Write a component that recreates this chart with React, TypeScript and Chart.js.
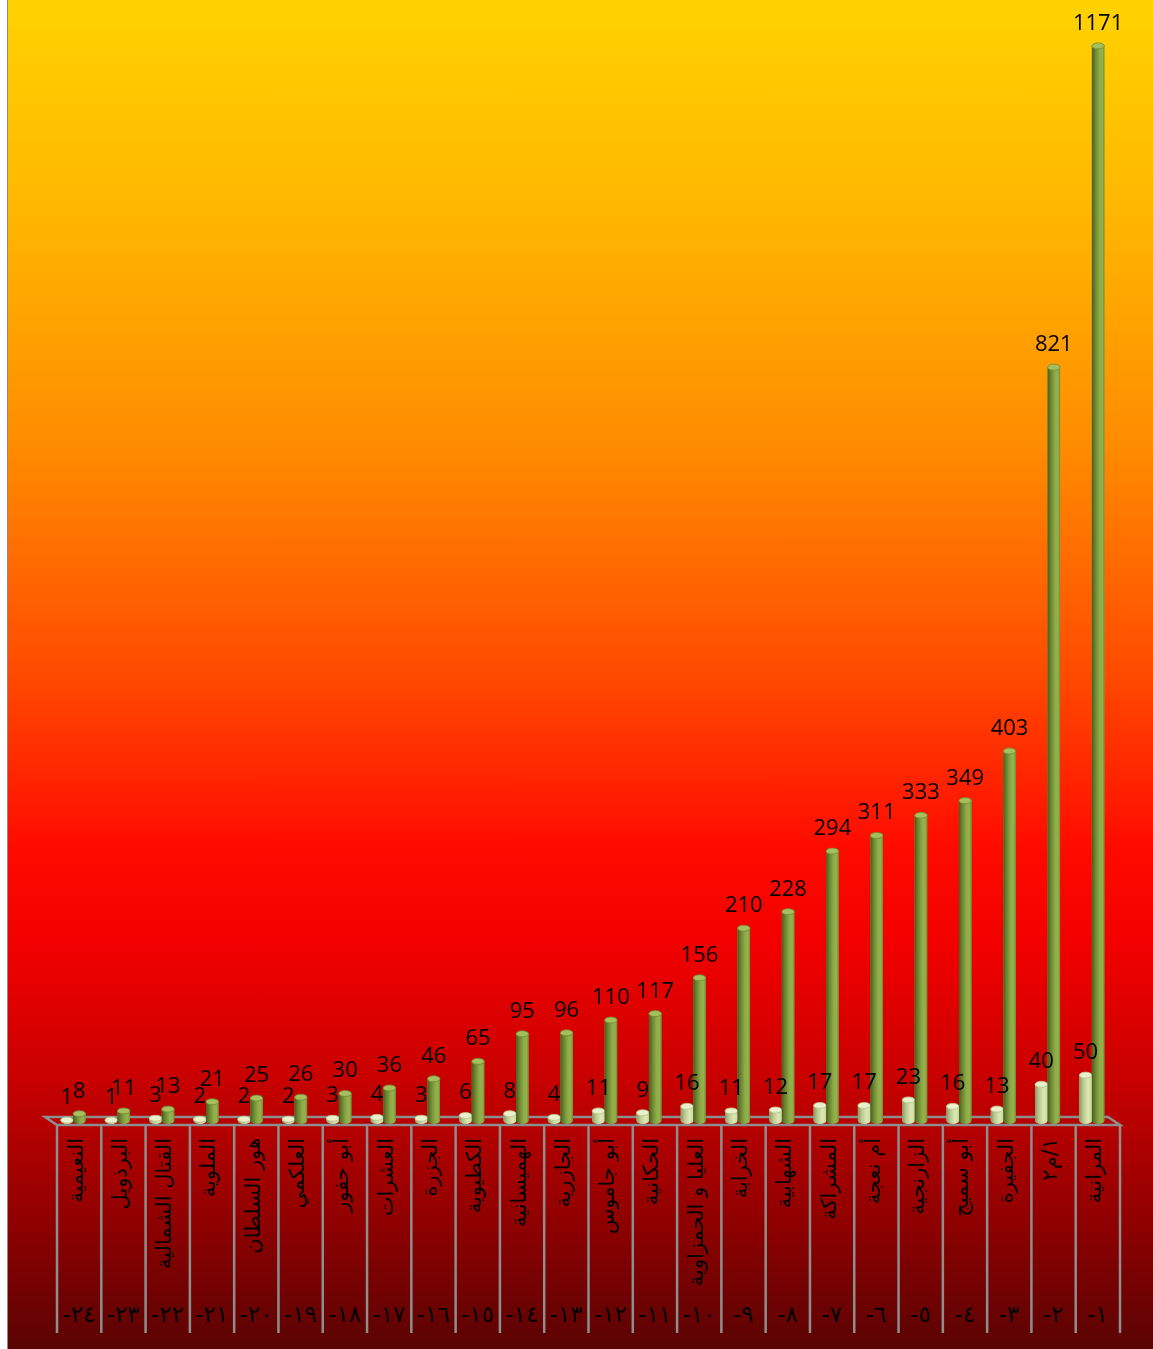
import React, { useEffect, useRef } from "react";
import { Chart, registerables } from "chart.js";

Chart.register(...registerables);

const categories: (string | string[])[] = [
  "النعيمية",
  "البرذويل",
  "القتال الشمالية",
  "الملوية",
  "هور السلطان",
  "العلكمي",
  "أبو حفور",
  "العشرات",
  "الجزرة",
  "الكطيوية",
  "الهميسانية",
  "الجازرية",
  "أبو جاموس",
  "الحكانية",
  "العليا و الحمزاوية",
  "الخرابة",
  "الشهابية",
  "المشراكة",
  "أم نعجة",
  "الزارنجية",
  "أبو سميج",
  "الجفيرة",
  "١/م٢",
  "المرانية",
];

const numberLabels = [
  "-٢٤", "-٢٣", "-٢٢", "-٢١", "-٢٠", "-١٩", "-١٨", "-١٧", "-١٦", "-١٥", "-١٤", "-١٣",
  "-١٢", "-١١", "-١٠", "-٩", "-٨", "-٧", "-٦", "-٥", "-٤", "-٣", "-٢", "-١",
];

const lightValues = [1, 1, 3, 2, 2, 2, 3, 4, 3, 6, 8, 4, 11, 9, 16, 11, 12, 17, 17, 23, 16, 13, 40, 50];
const greenValues = [8, 11, 13, 21, 25, 26, 30, 36, 46, 65, 95, 96, 110, 117, 156, 210, 228, 294, 311, 333, 349, 403, 821, 1171];

const yMax = 1221;

const GREEN_STOPS: [number, string][] = [
  [0, "#4a5c20"],
  [0.25, "#68832e"],
  [0.6, "#8fac48"],
  [0.85, "#94b14c"],
  [1, "#6f8a32"],
];
const LIGHT_STOPS: [number, string][] = [
  [0, "#8a9866"],
  [0.3, "#b8c88e"],
  [0.7, "#dbe8b4"],
  [1, "#cbda9c"],
];

function drawCylinder(
  ctx: CanvasRenderingContext2D,
  x: number,
  top: number,
  base: number,
  width: number,
  stops: [number, string][],
  cap: string,
  capStroke: string
) {
  const l = x - width / 2;
  const r = x + width / 2;
  const rx = width / 2;
  const ry = 3;
  const g = ctx.createLinearGradient(l, 0, r, 0);
  stops.forEach(([o, c]) => g.addColorStop(o, c));
  ctx.fillStyle = g;
  ctx.beginPath();
  ctx.moveTo(l, top);
  ctx.lineTo(l, base);
  ctx.ellipse(x, base, rx, ry, 0, Math.PI, 0, true);
  ctx.lineTo(r, top);
  ctx.ellipse(x, top, rx, ry, 0, 0, Math.PI, false);
  ctx.closePath();
  ctx.fill();
  ctx.beginPath();
  ctx.ellipse(x, top, rx, ry, 0, 0, Math.PI * 2);
  ctx.fillStyle = cap;
  ctx.fill();
  ctx.lineWidth = 0.8;
  ctx.strokeStyle = capStroke;
  ctx.stroke();
}

const tablePlugin = {
  id: "tablePlugin",
  beforeDatasetsDraw(chart: any) {
    const ctx: CanvasRenderingContext2D = chart.ctx;
    const xs = chart.scales.x;
    const { left, right, bottom } = chart.chartArea;
    const n = categories.length;
    const w = (right - left) / n;
    ctx.save();
    ctx.strokeStyle = "#8e8e8e";
    ctx.lineWidth = 2.5;
    ctx.lineJoin = "miter";
    ctx.beginPath();
    ctx.moveTo(left - 6, bottom - 4);
    ctx.lineTo(right - 6, bottom - 4);
    ctx.lineTo(right + 6, bottom + 4);
    ctx.lineTo(left + 6, bottom + 4);
    ctx.closePath();
    ctx.stroke();
    const yEnd = chart.height - 16;
    for (let i = 0; i <= n; i++) {
      const px = i < n ? xs.getPixelForValue(i) - w / 2 : xs.getPixelForValue(n - 1) + w / 2;
      ctx.beginPath();
      ctx.moveTo(px + 6, bottom + 4);
      ctx.lineTo(px + 6, yEnd);
      ctx.stroke();
    }
    ctx.restore();
  },
  afterDatasetsDraw(chart: any) {
    const ctx: CanvasRenderingContext2D = chart.ctx;
    ctx.save();
    chart.data.datasets.forEach((ds: any, di: number) => {
      const meta = chart.getDatasetMeta(di);
      meta.data.forEach((el: any) => {
        const p = el.getProps(["x", "y", "base", "width"], true);
        if (di === 0) drawCylinder(ctx, p.x, p.y, p.base, p.width, LIGHT_STOPS, "#e9f1cc", "#b6c48a");
        else drawCylinder(ctx, p.x, p.y, p.base, p.width, GREEN_STOPS, "#a5bf5f", "#6f8a32");
      });
    });
    ctx.font = '22px "Open Sans"';
    ctx.fillStyle = "#000";
    ctx.textAlign = "center";
    ctx.textBaseline = "alphabetic";
    chart.data.datasets.forEach((ds: any, di: number) => {
      const meta = chart.getDatasetMeta(di);
      meta.data.forEach((el: any, i: number) => {
        const p = el.getProps(["x", "y"], true);
        ctx.fillText(String(ds.data[i]), p.x, p.y - 16);
      });
    });
    ctx.restore();
  },
};

export default function App() {
  const canvasRef = useRef<HTMLCanvasElement | null>(null);

  useEffect(() => {
    if (!canvasRef.current) return;
    const chart = new Chart(canvasRef.current, {
      type: "bar",
      data: {
        labels: categories as any,
        datasets: [
          {
            label: "a",
            data: lightValues,
            backgroundColor: "#cbda9c",
            borderWidth: 0,
            categoryPercentage: 0.565,
            barPercentage: 1,
          },
          {
            label: "b",
            data: greenValues,
            backgroundColor: "#8fac48",
            borderWidth: 0,
            categoryPercentage: 0.565,
            barPercentage: 1,
          },
        ],
      },
      options: {
        animation: false,
        responsive: false,
        devicePixelRatio: 1,
        layout: { padding: { left: 43, right: 39, top: 0, bottom: 0 } },
        plugins: {
          legend: { display: false },
          tooltip: { enabled: false },
          title: { display: false },
        },
        scales: {
          x: {
            type: "category",
            position: "bottom",
            offset: true,
            grid: { display: false, drawTicks: false },
            border: { display: false },
            ticks: {
              color: "#000",
              font: { family: "DejaVu Sans", size: 21, lineHeight: 0.75 },
              maxRotation: 90,
              minRotation: 90,
              padding: 17,
              labelOffset: 4,
              autoSkip: false,
            },
            afterFit: (s: any) => {
              s.height = 175;
            },
          },
          x2: {
            type: "category",
            position: "bottom",
            labels: numberLabels,
            offset: true,
            grid: { display: false, drawTicks: false },
            border: { display: false },
            ticks: {
              color: "#000",
              font: { family: "DejaVu Sans", size: 23 },
              maxRotation: 0,
              minRotation: 0,
              padding: 6,
              labelOffset: 6,
              autoSkip: false,
            },
            afterFit: (s: any) => {
              s.height = 53;
            },
          },
          y: { display: false, min: 0, max: yMax },
        },
      } as any,
      plugins: [tablePlugin],
    });
    return () => chart.destroy();
  }, []);

  return (
    <div
      style={{
        position: "fixed",
        left: 7,
        top: 0,
        width: 1146,
        height: 1349,
        boxSizing: "border-box",
        borderLeft: "1px solid #8c8c8c",
        background:
          "linear-gradient(to bottom, #ffd200 0%, #ffb800 15%, #ff8c00 33%, #ff4a00 50%, #ff0a00 63%, #f20000 70%, #c80000 80%, #920000 90%, #5a0303 100%)",
      }}
    >
      <canvas ref={canvasRef} width={1145} height={1349} style={{ display: "block", width: 1145, height: 1349 }} />
    </div>
  );
}
